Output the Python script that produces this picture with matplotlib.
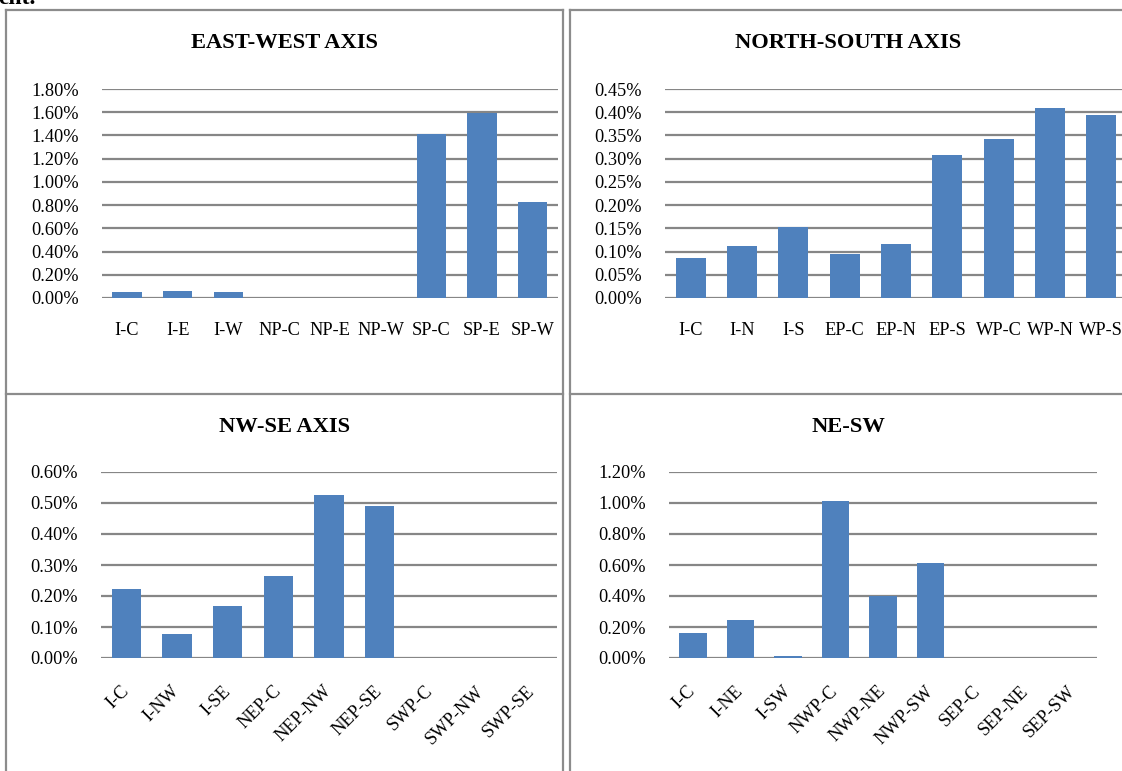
import matplotlib
matplotlib.use('Agg')
import matplotlib.pyplot as plt
from matplotlib.ticker import FuncFormatter, MultipleLocator
from matplotlib.lines import Line2D

plt.rcParams['font.family'] = ['Liberation Serif', 'DejaVu Serif']

ew_labels = ['I-C', 'I-E', 'I-W', 'NP-C', 'NP-E', 'NP-W', 'SP-C', 'SP-E', 'SP-W']
ew_values = [0.05, 0.057, 0.049, 0, 0, 0, 1.41, 1.595, 0.826]

ns_labels = ['I-C', 'I-N', 'I-S', 'EP-C', 'EP-N', 'EP-S', 'WP-C', 'WP-N', 'WP-S']
ns_values = [0.086, 0.113, 0.152, 0.094, 0.117, 0.308, 0.343, 0.410, 0.395]

nwse_labels = ['I-C', 'I-NW', 'I-SE', 'NEP-C', 'NEP-NW', 'NEP-SE', 'SWP-C', 'SWP-NW', 'SWP-SE']
nwse_values = [0.224, 0.079, 0.169, 0.263, 0.525, 0.489, 0, 0, 0]

nesw_labels = ['I-C', 'I-NE', 'I-SW', 'NWP-C', 'NWP-NE', 'NWP-SW', 'SEP-C', 'SEP-NE', 'SEP-SW']
nesw_values = [0.164, 0.243, 0.015, 1.010, 0.403, 0.612, 0, 0, 0]

W, H = 1122, 771
BAR = '#4F81BD'
GRID = '#868686'
BORDER = '#8c8c8c'
TICK_FS = 13.2

fig = plt.figure(figsize=(W / 100, H / 100), dpi=100)


def px_axes(x0, x1, ytop, ybot):
    # axes placed in pixel coordinates of the reference image
    return fig.add_axes([x0 / W, 1 - ybot / H, (x1 - x0) / W, (ybot - ytop) / H])


def bar_panel(ax, labels, values, ymax, step, rotate=False):
    x = range(len(labels))
    ax.bar(x, values, width=0.58, color=BAR, zorder=3)
    ax.set_xlim(-0.5, len(labels) - 0.5)
    ax.set_ylim(0, ymax)
    ax.yaxis.set_major_locator(MultipleLocator(step))
    ax.yaxis.set_major_formatter(FuncFormatter(lambda v, p: f'{v:.2f}%'))
    ax.grid(axis='y', color=GRID, linewidth=1.6, zorder=0)
    ax.set_axisbelow(True)
    for s in ax.spines.values():
        s.set_visible(False)
    ax.tick_params(axis='y', length=0, pad=16.5, labelsize=TICK_FS)
    ax.set_xticks(list(x))
    if rotate:
        ax.set_xticklabels(labels, rotation=45, ha='right', va='center',
                           rotation_mode='anchor', fontsize=TICK_FS)
        ax.tick_params(axis='x', length=0, pad=22)
    else:
        ax.set_xticklabels(labels, fontsize=TICK_FS)
        ax.tick_params(axis='x', length=0, pad=17)


ax1 = px_axes(101.6, 558, 89, 298)
bar_panel(ax1, ew_labels, ew_values, 1.8, 0.2)

ax2 = px_axes(665, 1127, 89, 298)
bar_panel(ax2, ns_labels, ns_values, 0.45, 0.05)

ax3 = px_axes(101, 557, 472, 658)
bar_panel(ax3, nwse_labels, nwse_values, 0.6, 0.1, rotate=True)

ax4 = px_axes(669, 1097, 472, 658)
bar_panel(ax4, nesw_labels, nesw_values, 1.2, 0.2, rotate=True)

# panel titles
title_kw = dict(ha='center', va='center', fontsize=16.2, fontweight='bold')
fig.text(284.5 / W, 1 - 43 / H, 'EAST-WEST AXIS', **title_kw)
fig.text(848 / W, 1 - 43 / H, 'NORTH-SOUTH AXIS', **title_kw)
fig.text(284.5 / W, 1 - 427 / H, 'NW-SE AXIS', **title_kw)
fig.text(848 / W, 1 - 427 / H, 'NE-SW', **title_kw)

# fragment of the page text above the figure
fig.text(-2 / W, 1 - 4 / H, 'ent.', ha='left', va='baseline', fontsize=17,
         fontweight='bold')


def hline(x0, x1, y):
    fig.add_artist(Line2D([x0 / W, x1 / W], [1 - y / H, 1 - y / H],
                          color=BORDER, linewidth=1.6))


def vline(x, y0, y1):
    fig.add_artist(Line2D([x / W, x / W], [1 - y0 / H, 1 - y1 / H],
                          color=BORDER, linewidth=1.6))


# panel borders
hline(6, 563, 10)
hline(570, 1130, 10)
hline(6, 563, 394)
hline(570, 1130, 394)
vline(6, 10, 780)
vline(563, 10, 780)
vline(570, 10, 780)

fig.savefig('out.png', dpi=100)
